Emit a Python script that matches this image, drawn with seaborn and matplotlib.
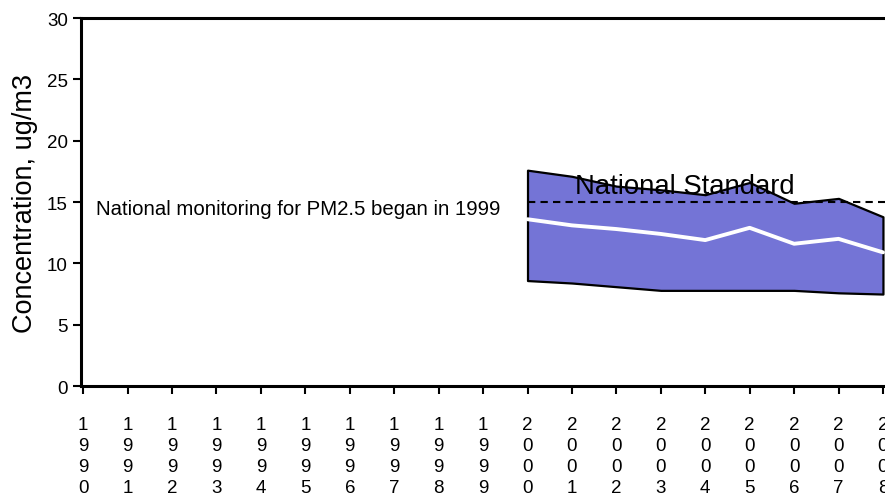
import matplotlib
matplotlib.use("Agg")
import matplotlib.pyplot as plt
import seaborn as sns
import pandas as pd

# PM2.5 annual concentrations, ug/m3
years = [2000, 2001, 2002, 2003, 2004, 2005, 2006, 2007, 2008]
upper = [17.6, 17.1, 16.3, 16.0, 15.6, 16.6, 14.9, 15.3, 13.8]
mean = [13.6, 13.1, 12.8, 12.4, 11.9, 12.9, 11.6, 12.0, 10.9]
lower = [8.6, 8.4, 8.1, 7.8, 7.8, 7.8, 7.8, 7.6, 7.5]
standard = 15
tick_years = list(range(1990, 2009))

df = pd.DataFrame({"year": years, "upper": upper, "mean": mean, "lower": lower})

sns.set_style("ticks")
plt.rcParams["font.family"] = ["Liberation Sans", "DejaVu Sans"]
plt.rcParams["text.color"] = "black"
plt.rcParams["axes.labelcolor"] = "black"
plt.rcParams["xtick.color"] = "black"
plt.rcParams["ytick.color"] = "black"

fig = plt.figure(figsize=(8.85, 5.02), dpi=100)
ax = fig.add_axes([0.0915, 0.229, 1.0066, 0.733])

ax.fill_between(df["year"], df["lower"], df["upper"], facecolor="#7474D6",
                edgecolor="black", linewidth=1.6, zorder=2)
sns.lineplot(data=df, x="year", y="mean", color="white", linewidth=2.8, ax=ax, zorder=3)
ax.hlines(standard, 2000, 2010, colors="black", linewidth=1.5,
          linestyles=(0, (3.5, 2.5)), zorder=4)

ax.text(2003.55, 15.75, "National Standard", ha="center", va="baseline", fontsize=19.8, zorder=5)
ax.text(1990.29, 14.0, "National monitoring for PM2.5 began in 1999",
        ha="left", va="baseline", fontsize=14.7, zorder=5)

ax.set_xlim(1989.95, 2010)
ax.set_ylim(0, 30)
ax.set_yticks([0, 5, 10, 15, 20, 25, 30])
ax.set_xticks(tick_years)
ax.set_xticklabels(["\n".join(str(y)) for y in tick_years], linespacing=1.3)
ax.set_xlabel("")
ax.set_ylabel("Concentration, ug/m3", fontsize=19.5, labelpad=6)

for side in ["left", "bottom", "top"]:
    ax.spines[side].set_linewidth(2.2)
    ax.spines[side].set_color("black")
ax.spines["right"].set_visible(False)
ax.tick_params(axis="both", direction="out", width=1.5, length=5.5, colors="black", labelsize=13.5)
ax.tick_params(axis="x", pad=16)
ax.tick_params(axis="y", pad=4)

fig.savefig("out.png", dpi=100)
